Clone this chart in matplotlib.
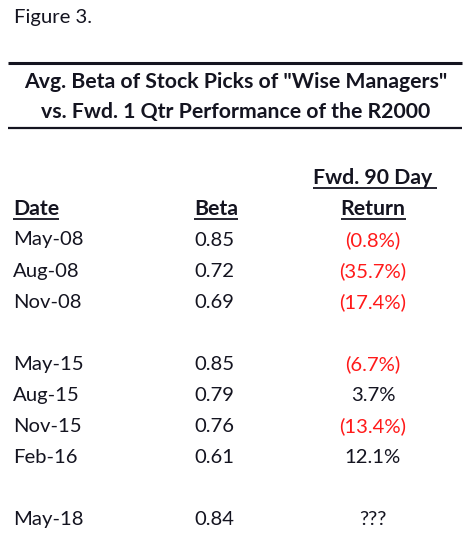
import matplotlib
matplotlib.use("Agg")
import matplotlib.pyplot as plt

dates = ["May-08", "Aug-08", "Nov-08", "", "May-15", "Aug-15", "Nov-15", "Feb-16", "", "May-18"]
betas = ["0.85", "0.72", "0.69", "", "0.85", "0.79", "0.76", "0.61", "", "0.84"]
returns = ["(0.8%)", "(35.7%)", "(17.4%)", "", "(6.7%)", "3.7%", "(13.4%)", "12.1%", "", "???"]
title_lines = ['Avg. Beta of Stock Picks of "Wise Managers"', 'vs. Fwd. 1 Qtr Performance of the R2000']
fig_label = "Figure 3."
headers = ["Date", "Beta", "Return"]
header_top = "Fwd. 90 Day"

plt.rcParams['font.family'] = ['Lato', 'DejaVu Sans']
W, H = 472, 545
fig = plt.figure(figsize=(W/100, H/100), dpi=100)
ax = fig.add_axes([0, 0, 1, 1])
ax.set_xlim(0, W)
ax.set_ylim(H, 0)
ax.axis('off')

ink = '#141420'
red = '#ff1a1a'
fs = 14.6
fsb = 15.3

ax.text(14, 18, fig_label, fontsize=fs, color=ink, va='center', ha='left')
ax.plot([8, 462], [63, 63], color=ink, lw=2.2, solid_capstyle='butt')
ax.text(236, 82, title_lines[0], fontsize=fsb, fontweight='bold', color=ink, ha='center', va='center')
ax.text(236, 112, title_lines[1], fontsize=fsb, fontweight='bold', color=ink, ha='center', va='center')
ax.plot([8, 462], [128, 128], color=ink, lw=1.6, solid_capstyle='butt')

fig.canvas.draw()
renderer = fig.canvas.get_renderer()
inv = ax.transData.inverted()

def underline(t, y, extra=0):
    bb = t.get_window_extent(renderer)
    (x0, _), (x1, _) = inv.transform([(bb.x0, bb.y0), (bb.x1, bb.y0)])
    ax.plot([x0, x1 + extra], [y, y], color=ink, lw=1.3, solid_capstyle='butt')

xd, xb, xr = 13, 194, 373
t = ax.text(xr, 178, header_top, fontsize=fsb, fontweight='bold', color=ink, ha='center', va='center')
underline(t, 188, extra=4)
t = ax.text(xd, 209, headers[0], fontsize=fsb, fontweight='bold', color=ink, ha='left', va='center')
underline(t, 219)
t = ax.text(xb, 209, headers[1], fontsize=fsb, fontweight='bold', color=ink, ha='left', va='center')
underline(t, 219)
t = ax.text(xr, 209, headers[2], fontsize=fsb, fontweight='bold', color=ink, ha='center', va='center')
underline(t, 219)

y0, dy = 240, 31.1
for i, (d, b, r) in enumerate(zip(dates, betas, returns)):
    y = y0 + i * dy
    if d:
        ax.text(xd, y, d, fontsize=fs, color=ink, ha='left', va='center')
        ax.text(xb, y, b, fontsize=fs, color=ink, ha='left', va='center')
        ax.text(xr, y, r, fontsize=fs, color=red if r.startswith('(') else ink, ha='center', va='center')

fig.savefig("out.png", dpi=100, facecolor='white')
